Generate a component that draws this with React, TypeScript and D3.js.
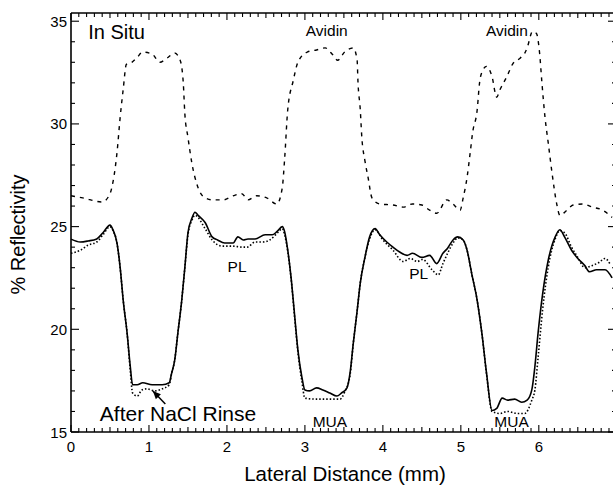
import React from "react";
import * as d3 from "d3";

// In Situ (dashed)
const inSituX = [0.0,0.15,0.40,0.50,0.54,0.59,0.63,0.67,0.71,0.78,0.85,0.92,1.04,1.14,1.23,1.33,1.40,1.44,1.46,1.50,1.55,1.62,1.72,1.82,1.95,2.08,2.19,2.27,2.38,2.51,2.64,2.71,2.74,2.78,2.85,2.91,3.03,3.15,3.26,3.36,3.42,3.51,3.62,3.67,3.68,3.71,3.73,3.77,3.81,3.86,3.96,4.13,4.26,4.38,4.50,4.60,4.69,4.82,4.90,4.99,5.03,5.08,5.12,5.15,5.21,5.24,5.28,5.33,5.40,5.46,5.50,5.59,5.67,5.76,5.82,5.85,5.92,5.97,6.01,6.04,6.08,6.12,6.17,6.23,6.27,6.36,6.44,6.56,6.69,6.82,6.94];
const inSituY = [26.5,26.4,26.2,26.6,27.2,28.6,30.3,31.7,32.9,33.0,33.25,33.5,33.4,33.0,33.2,33.45,33.1,32.0,30.5,29.35,28.1,27.0,26.4,26.3,26.3,26.5,26.6,26.3,26.5,26.4,26.1,26.9,28.3,30.7,32.1,33.0,33.5,33.6,33.7,33.35,33.1,33.5,33.7,33.1,32.1,30.7,29.35,28.2,27.4,26.4,26.1,26.05,25.95,26.1,26.05,25.8,25.65,26.3,26.1,25.8,26.4,27.4,28.6,29.55,30.7,32.0,32.6,32.8,32.3,31.3,31.65,32.3,32.95,33.2,33.45,33.7,34.5,34.4,33.45,32.0,30.3,29.1,27.6,26.1,25.55,25.8,26.05,26.1,25.95,25.8,25.45];

// Before rinse (solid)
const solidX = [0.0,0.12,0.22,0.33,0.41,0.50,0.54,0.59,0.63,0.67,0.72,0.76,0.79,0.85,0.92,1.04,1.17,1.26,1.29,1.33,1.37,1.42,1.46,1.50,1.55,1.59,1.63,1.72,1.81,1.88,1.97,2.08,2.14,2.21,2.27,2.36,2.49,2.58,2.64,2.71,2.74,2.78,2.83,2.87,2.91,2.96,3.00,3.06,3.15,3.23,3.32,3.41,3.47,3.54,3.58,3.62,3.67,3.71,3.77,3.83,3.90,3.96,4.05,4.13,4.22,4.31,4.38,4.50,4.60,4.69,4.77,4.83,4.90,4.96,5.03,5.08,5.14,5.21,5.27,5.33,5.40,5.46,5.53,5.60,5.69,5.78,5.85,5.91,5.95,5.99,6.05,6.12,6.21,6.27,6.33,6.42,6.50,6.59,6.65,6.74,6.85,6.94];
const solidY = [24.39,24.25,24.3,24.4,24.7,25.07,24.83,24.2,23.03,21.4,19.8,18.2,17.3,17.3,17.4,17.3,17.3,17.4,17.85,18.5,19.8,21.4,23.0,24.7,25.4,25.7,25.55,25.2,24.5,24.35,24.2,24.2,24.5,24.35,24.4,24.4,24.6,24.6,24.75,25.0,24.75,23.85,22.25,20.6,19.0,17.7,17.05,17.0,17.15,17.05,16.9,16.75,16.9,17.15,17.9,19.3,20.9,22.25,23.5,24.5,24.9,24.6,24.25,24.0,23.75,23.6,23.7,23.5,23.6,23.2,23.7,23.95,24.35,24.5,24.35,23.85,22.7,21.4,19.8,17.85,16.05,16.15,16.65,16.55,16.6,16.45,16.55,17.05,18.2,19.8,21.75,23.35,24.5,24.85,24.5,23.85,23.45,23.1,22.8,22.9,22.9,22.5];

// After NaCl rinse (dotted)
const rinseX = [0.0,0.12,0.22,0.33,0.41,0.50,0.54,0.59,0.63,0.67,0.72,0.76,0.79,0.85,0.91,0.97,1.08,1.17,1.26,1.29,1.33,1.37,1.42,1.46,1.50,1.55,1.59,1.72,1.81,1.94,2.06,2.21,2.26,2.36,2.46,2.55,2.65,2.71,2.74,2.78,2.83,2.87,2.91,2.96,3.00,3.15,3.32,3.45,3.51,3.58,3.62,3.67,3.71,3.77,3.83,3.90,4.00,4.13,4.26,4.35,4.44,4.51,4.63,4.71,4.77,4.83,4.90,4.96,5.03,5.08,5.14,5.21,5.27,5.33,5.40,5.50,5.60,5.73,5.82,5.91,5.95,5.99,6.05,6.12,6.21,6.27,6.33,6.42,6.50,6.59,6.68,6.77,6.85,6.91];
const rinseY = [23.7,23.85,24.1,24.25,24.6,25.0,24.8,24.2,23.0,21.4,19.8,18.0,16.9,16.75,17.05,17.1,17.0,17.1,17.3,17.85,18.5,19.8,21.4,23.0,24.6,25.3,25.55,24.9,24.35,24.05,24.05,24.0,24.0,24.25,24.25,24.35,24.7,24.9,24.6,23.8,22.2,20.5,18.9,17.5,16.65,16.6,16.6,16.6,16.95,17.8,19.3,20.9,22.25,23.5,24.4,24.85,24.35,23.85,23.3,23.45,23.3,23.4,22.9,22.65,23.2,23.7,24.2,24.45,24.35,23.85,22.7,21.4,19.8,17.8,16.0,15.9,16.0,15.9,15.9,16.55,17.05,18.6,21.0,23.0,24.4,24.8,24.7,24.0,23.5,23.0,23.1,23.25,23.45,23.2];

const xTicks = [0, 1, 2, 3, 4, 5, 6];
const yTicks = [15, 20, 25, 30, 35];

const labels = [
  { text: "In Situ", x: 0.22, y: 34.47, size: 20, anchor: "start" },
  { text: "Avidin", x: 3.28, y: 34.56, size: 15.5, anchor: "middle" },
  { text: "Avidin", x: 5.59, y: 34.56, size: 15.5, anchor: "middle" },
  { text: "PL", x: 2.13, y: 23.08, size: 15.5, anchor: "middle" },
  { text: "PL", x: 4.46, y: 22.74, size: 15.5, anchor: "middle" },
  { text: "MUA", x: 3.32, y: 15.49, size: 15.5, anchor: "middle" },
  { text: "MUA", x: 5.65, y: 15.49, size: 15.5, anchor: "middle" },
  { text: "After NaCl Rinse", x: 0.37, y: 15.88, size: 21, anchor: "start" },
];
const arrowFrom = [1.21, 16.36];
const arrowTo = [1.05, 17.0];

const W = 613, H = 485;
const L = 71, R = 616, T = 13, B = 432;
const FONT = "'Liberation Sans', Arial, Helvetica, sans-serif";

export default function App() {
  const x = d3.scaleLinear().domain([0, 6.99]).range([L, R]);
  const y = d3.scaleLinear().domain([15, 35.4]).range([B, T]);
  const line = d3.line<[number, number]>().x(d => x(d[0])).y(d => y(d[1])).curve(d3.curveMonotoneX);
  const zip = (xs: number[], ys: number[]) => xs.map((v, i) => [v, ys[i]] as [number, number]);

  const xMinor = d3.range(0, 6.99, 0.1).map(v => +v.toFixed(2));
  const yMinor = d3.range(15, 35.4, 1);

  const ax = x(arrowFrom[0]), ay = y(arrowFrom[1]);
  const bx = x(arrowTo[0]), by = y(arrowTo[1]);
  const ang = Math.atan2(by - ay, bx - ax);
  const hl = 8, hw = 3.5;
  const head = [
    [bx, by],
    [bx - hl * Math.cos(ang) + hw * Math.sin(ang), by - hl * Math.sin(ang) - hw * Math.cos(ang)],
    [bx - hl * Math.cos(ang) - hw * Math.sin(ang), by - hl * Math.sin(ang) + hw * Math.cos(ang)],
  ];

  return (
    <svg width={W} height={H} style={{ position: "absolute", left: 0, top: 0, background: "#fff" }} fontFamily={FONT}>
      <rect width={W} height={H} fill="#fff" />
      {/* frame */}
      <line x1={L} x2={R} y1={B} y2={B} stroke="#000" strokeWidth={1.6} />
      <line x1={L} x2={R} y1={T} y2={T} stroke="#000" strokeWidth={1.6} />
      <line x1={L} x2={L} y1={T} y2={B} stroke="#000" strokeWidth={1.6} />
      <line x1={R} x2={R} y1={T} y2={B} stroke="#000" strokeWidth={1.6} />
      {/* x minor/major ticks */}
      {xMinor.map((v, i) => {
        const major = Math.abs(v - Math.round(v)) < 1e-6;
        const len = major ? 7 : (Math.abs(v * 10 % 10 - 5) < 1e-6 ? 5 : 4);
        return (
          <g key={"xt" + i}>
            <line x1={x(v)} x2={x(v)} y1={B} y2={B - len} stroke="#000" strokeWidth={1.1} />
            <line x1={x(v)} x2={x(v)} y1={T} y2={T + len} stroke="#000" strokeWidth={1.1} />
          </g>
        );
      })}
      {yMinor.map((v, i) => {
        const major = v % 5 === 0;
        const len = major ? 8 : 4;
        return (
          <g key={"yt" + i}>
            <line x1={L} x2={L + len} y1={y(v)} y2={y(v)} stroke="#000" strokeWidth={1.1} />
            <line x1={R} x2={R - len} y1={y(v)} y2={y(v)} stroke="#000" strokeWidth={1.1} />
          </g>
        );
      })}
      {xTicks.map(v => (
        <text key={"xl" + v} x={x(v)} y={B + 20} fontSize={15} textAnchor="middle">{v}</text>
      ))}
      {yTicks.map(v => (
        <text key={"yl" + v} x={L - 4} y={y(v)} fontSize={15} textAnchor="end" dominantBaseline="central">{v}</text>
      ))}
      <text x={345} y={481} fontSize={20.5} textAnchor="middle">Lateral Distance (mm)</text>
      <text transform={`translate(25,${(T + B) / 2 + 12}) rotate(-90)`} fontSize={20} textAnchor="middle">% Reflectivity</text>

      <path d={line(zip(inSituX, inSituY)) || ""} fill="none" stroke="#000" strokeWidth={1.4} strokeDasharray="4,5" />
      <path d={line(zip(solidX, solidY)) || ""} fill="none" stroke="#000" strokeWidth={1.6} />
      <path d={line(zip(rinseX, rinseY)) || ""} fill="none" stroke="#000" strokeWidth={1.6} strokeDasharray="1.5,2" />

      {labels.map((l, i) => (
        <text key={"lb" + i} x={x(l.x)} y={y(l.y)} fontSize={l.size} textAnchor={l.anchor as any} dominantBaseline="central">{l.text}</text>
      ))}
      <line x1={ax} y1={ay} x2={bx} y2={by} stroke="#000" strokeWidth={1.5} />
      <polygon points={head.map(p => p.join(",")).join(" ")} fill="#000" />
    </svg>
  );
}
